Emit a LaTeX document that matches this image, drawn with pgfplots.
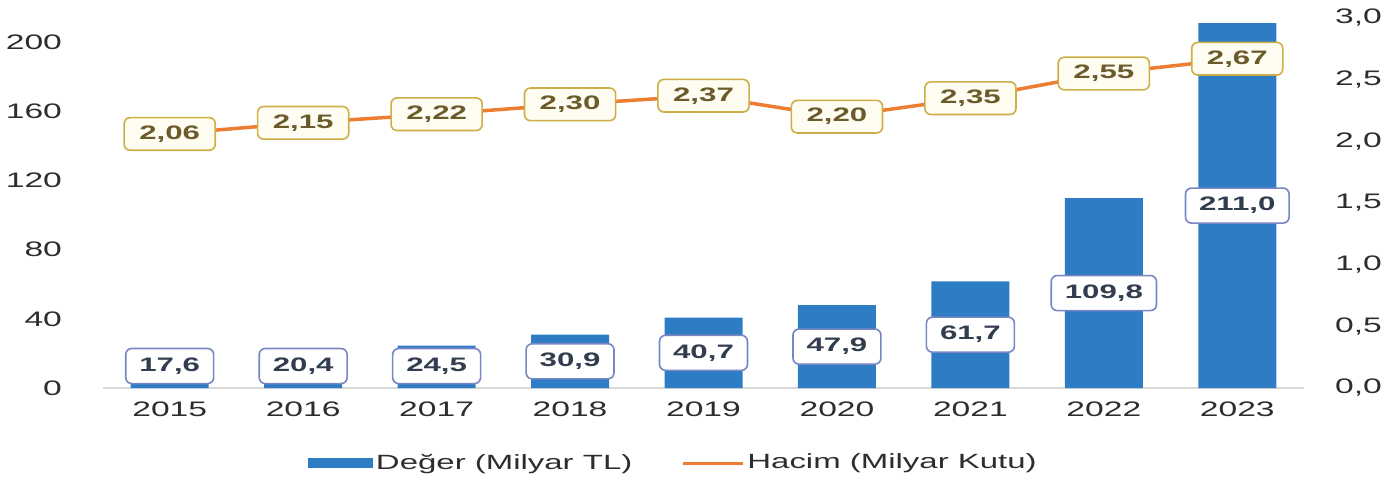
\documentclass[border=0pt]{standalone}
\usepackage{fontspec}
\setmainfont{Liberation Sans}[FakeStretch=1.6]
\usepackage{pgfplots}
\pgfplotsset{compat=1.18}
\usepackage{pgfplotstable}

\definecolor{barblue}{RGB}{46,125,196}
\definecolor{lineorange}{RGB}{237,125,49}
\definecolor{goldborder}{RGB}{206,174,70}
\definecolor{goldfill}{RGB}{255,253,242}
\definecolor{goldtext}{RGB}{107,90,42}
\definecolor{blueborder}{RGB}{120,135,195}
\definecolor{bluetext}{RGB}{50,62,80}
\definecolor{ticktext}{RGB}{45,45,45}
\definecolor{axisgray}{RGB}{217,217,217}

\pgfplotstableread{
x year deger laby hacim
0 2015 17.6 12.7 2.06
1 2016 20.4 12.7 2.15
2 2017 24.5 12.7 2.22
3 2018 30.9 15.45 2.30
4 2019 40.7 20.35 2.37
5 2020 47.9 23.95 2.20
6 2021 61.7 30.85 2.35
7 2022 109.8 54.9 2.55
8 2023 211.0 105.5 2.67
}\data

\begin{document}
\begin{tikzpicture}
\useasboundingbox (-51.5pt,-46.5pt) rectangle (646pt,194pt);
\begin{axis}[
  at={(0pt,0pt)}, anchor=south west, scale only axis,
  width=600.5pt, height=185pt,
  xmin=-0.5, xmax=8.5, ymin=0, ymax=214,
  separate axis lines,
  axis x line*=bottom, axis y line*=left,
  x axis line style={-, draw=axisgray, line width=0.8pt},
  y axis line style={draw=none},
  xtick={0,...,8},
  xticklabels={2015,2016,2017,2018,2019,2020,2021,2022,2023},
  ytick={0,40,...,200},
  major tick length=0pt,
  /pgf/number format/assume math mode=true,
  tick label style={font=\fontsize{10.5}{12}\selectfont, text=ticktext},
  xticklabel style={yshift=-3.5pt},
  yticklabel style={xshift=-17pt},
]
\addplot[ybar, bar width=39pt, fill=barblue, draw=none] table[x=x, y=deger] {\data};
\addplot[draw=none, mark=none,
  nodes near coords={\pgfmathprintnumber[fixed,fixed zerofill,precision=1,use comma]{\pgfplotspointmeta}},
  point meta=explicit,
  every node near coord/.append style={anchor=center, draw=blueborder, fill=white,
    rounded corners=3pt, line width=0.8pt, text=bluetext,
    font=\fontsize{9.75}{11}\selectfont\bfseries, inner xsep=6.8pt, inner ysep=4.6pt},
] table[x=x, y=laby, meta=deger] {\data};
\end{axis}
\begin{axis}[
  at={(0pt,0pt)}, anchor=south west, scale only axis,
  width=600.5pt, height=185pt,
  xmin=-0.5, xmax=8.5, ymin=0, ymax=3,
  hide x axis,
  axis y line*=right,
  y axis line style={draw=none},
  ytick={0,0.5,...,3},
  major tick length=0pt,
  /pgf/number format/assume math mode=true,
  yticklabel={\pgfmathprintnumber[fixed,fixed zerofill,precision=1,use comma]{\tick}},
  tick label style={font=\fontsize{10.5}{12}\selectfont, text=ticktext},
  yticklabel style={xshift=12pt},
  legend style={at={(0.4754,-0.2027)}, anchor=center, draw=none, fill=none,
    legend columns=2, font=\fontsize{10.3}{12}\selectfont, text=ticktext,
    /tikz/every even column/.append style={column sep=23pt},
    nodes={inner xsep=1.5pt}},
]
\addlegendimage{legend image code/.code={\fill[barblue] (0pt,-2.25pt) rectangle (32pt,2.25pt);}}
\addlegendentry{Değer (Milyar TL)}
\addlegendimage{legend image code/.code={\draw[lineorange, line width=1.5pt] (0pt,0pt) -- (30pt,0pt);}}
\addlegendentry{Hacim (Milyar Kutu)}
\addplot[forget plot, lineorange, line width=1.75pt, mark=none,
  nodes near coords={\pgfmathprintnumber[fixed,fixed zerofill,precision=2,use comma]{\pgfplotspointmeta}},
  point meta=explicit,
  every node near coord/.append style={anchor=center, draw=goldborder, fill=goldfill,
    rounded corners=3pt, line width=0.8pt, text=goldtext,
    font=\fontsize{9.75}{11}\selectfont\bfseries, inner xsep=7.6pt, inner ysep=4pt},
] table[x=x, y=hacim, meta=hacim] {\data};
\end{axis}
\end{tikzpicture}
\end{document}
